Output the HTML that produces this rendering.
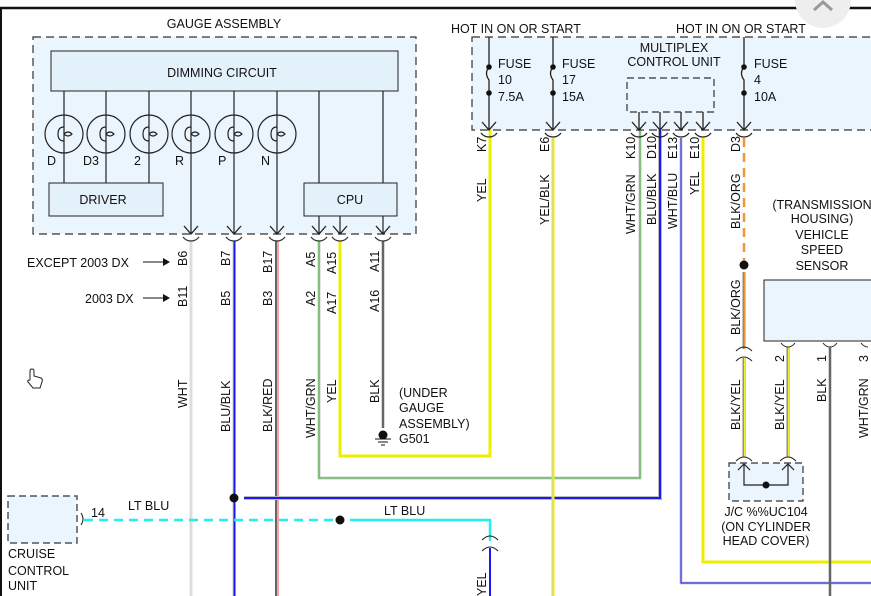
<!DOCTYPE html>
<html><head><meta charset="utf-8"><style>
html,body{margin:0;padding:0;background:#fff;width:871px;height:596px;overflow:hidden}
svg{display:block}
text{font-family:"Liberation Sans",Arial,sans-serif;font-size:12.5px;fill:#111}
</style></head><body>
<svg width="871" height="596" viewBox="0 0 871 596" xmlns="http://www.w3.org/2000/svg">
<defs>
<marker id="ar" markerWidth="10" markerHeight="10" refX="5" refY="8" orient="auto" markerUnits="userSpaceOnUse"/>
</defs>
<!-- frame -->
<line x1="0" y1="8" x2="871" y2="8" stroke="#111" stroke-width="2.5"/>
<line x1="1" y1="8" x2="1" y2="596" stroke="#111" stroke-width="2"/>
<circle cx="823" cy="0" r="28" fill="#eee"/>
<path d="M814 10 L823 2 L832 10" stroke="#999" stroke-width="3" fill="none"/>

<!-- GAUGE ASSEMBLY -->
<text x="224" y="28" text-anchor="middle">GAUGE ASSEMBLY</text>
<rect x="33" y="37" width="383" height="197" fill="#eaf5fd" stroke="#333" stroke-width="1.2" stroke-dasharray="8,5"/>
<rect x="51" y="51" width="347" height="40" fill="#e3f1fa" stroke="#222"/>
<text x="222" y="77" text-anchor="middle">DIMMING CIRCUIT</text>
<g stroke="#222" stroke-width="1.2" fill="none">
<line x1="64" y1="91" x2="64" y2="183"/><line x1="106" y1="91" x2="106" y2="183"/><line x1="149" y1="91" x2="149" y2="183"/>
<line x1="191" y1="91" x2="191" y2="234"/><line x1="234" y1="91" x2="234" y2="234"/><line x1="277" y1="91" x2="277" y2="234"/>
<line x1="319" y1="91" x2="319" y2="183"/><line x1="383" y1="91" x2="383" y2="183"/>
<line x1="319" y1="216" x2="319" y2="234"/><line x1="340" y1="216" x2="340" y2="234"/><line x1="383" y1="216" x2="383" y2="234"/>
<g id="bulbs">
<circle cx="64" cy="134" r="19"/><circle cx="106" cy="134" r="19"/><circle cx="149" cy="134" r="19"/>
<circle cx="191" cy="134" r="19"/><circle cx="234" cy="134" r="19"/><circle cx="277" cy="134" r="19"/>
</g>
</g>
<g fill="#eaf5fd" stroke="#222" stroke-width="1.2">
<path d="M64 127 q-6 0 -6 7 q0 7 6 7 M64 134 q4 -4 8 0 q-4 4 -8 0" fill="none"/>
<path d="M106 127 q-6 0 -6 7 q0 7 6 7 M106 134 q4 -4 8 0 q-4 4 -8 0" fill="none"/>
<path d="M149 127 q-6 0 -6 7 q0 7 6 7 M149 134 q4 -4 8 0 q-4 4 -8 0" fill="none"/>
<path d="M191 127 q-6 0 -6 7 q0 7 6 7 M191 134 q4 -4 8 0 q-4 4 -8 0" fill="none"/>
<path d="M234 127 q-6 0 -6 7 q0 7 6 7 M234 134 q4 -4 8 0 q-4 4 -8 0" fill="none"/>
<path d="M277 127 q-6 0 -6 7 q0 7 6 7 M277 134 q4 -4 8 0 q-4 4 -8 0" fill="none"/>
</g>
<text x="47" y="165">D</text><text x="83" y="165">D3</text><text x="134" y="165">2</text>
<text x="175" y="165">R</text><text x="218" y="165">P</text><text x="261" y="165">N</text>
<rect x="49" y="183" width="114" height="33" fill="#e3f1fa" stroke="#222"/>
<text x="103" y="204" text-anchor="middle">DRIVER</text>
<rect x="304" y="183" width="93" height="33" fill="#e3f1fa" stroke="#222"/>
<text x="350" y="204" text-anchor="middle">CPU</text>
<g stroke="#222" stroke-width="1.3" fill="none">
<path d="M184 226 L191 234 L198 226"/><path d="M227 226 L234 234 L241 226"/><path d="M270 226 L277 234 L284 226"/>
<path d="M312 226 L319 234 L326 226"/><path d="M333 226 L340 234 L347 226"/><path d="M376 226 L383 234 L390 226"/>
</g>

<!-- left wires -->
<line x1="191" y1="241" x2="191" y2="596" stroke="#ddd" stroke-width="3"/>
<line x1="234" y1="241" x2="234" y2="596" stroke="#ccc" stroke-width="3"/><line x1="234.5" y1="241" x2="234.5" y2="596" stroke="#1a1aee" stroke-width="2"/>
<line x1="276" y1="241" x2="276" y2="596" stroke="#666" stroke-width="2"/><line x1="278" y1="241" x2="278" y2="596" stroke="#e44" stroke-width="1"/>
<path d="M319 241 V478 H640 V130" stroke="#ccc" stroke-width="3" fill="none"/><path d="M319 241 V478 H640 V130" stroke="#5b5" stroke-width="1.3" fill="none"/>
<path d="M340 241 V456 H490 V130" stroke="#ee0" stroke-width="3" fill="none"/>
<line x1="383" y1="241" x2="383" y2="428" stroke="#666" stroke-width="2.5"/>
<circle cx="383" cy="435" r="4.5" fill="#111"/>
<path d="M375 439 H391 M378 442 H388 M381 445 H385" stroke="#111" stroke-width="1"/>
<text x="399" y="397">(UNDER</text><text x="399" y="412">GAUGE</text><text x="399" y="428">ASSEMBLY)</text><text x="399" y="443">G501</text>
<!-- blue junction -->
<path d="M244 498 H660 V130" stroke="#bbb" stroke-width="4" fill="none"/>
<path d="M244 498 H660 V130" stroke="#1a1aee" stroke-width="2" fill="none"/>
<circle cx="234" cy="498" r="4.5" fill="#111"/>
<!-- cruise -->
<rect x="8" y="496" width="69" height="47" fill="#eaf5fd" stroke="#555" stroke-width="1.5" stroke-dasharray="7,4"/>
<path d="M81 513 q4 6 0 12" stroke="#222" fill="none"/>
<text x="91" y="517">14</text>
<text x="128" y="510">LT BLU</text>
<text x="384" y="515">LT BLU</text>
<line x1="84" y1="520" x2="335" y2="520" stroke="#2ee" stroke-width="2.5" stroke-dasharray="9,6"/>
<circle cx="340" cy="520" r="4.5" fill="#111"/>
<path d="M350 520 H490 V541" stroke="#2ee" stroke-width="2.5" fill="none"/>
<path d="M482 540 q8 -8 16 0 M482 551 q8 -8 16 0" stroke="#222" fill="none"/>
<line x1="490" y1="548" x2="490" y2="596" stroke="#1a1aee" stroke-width="2"/>
<text transform="translate(486,596) rotate(-90)">YEL</text>
<text x="8" y="558">CRUISE</text><text x="8" y="575">CONTROL</text><text x="8" y="590">UNIT</text>

<!-- connector cups left -->
<g stroke="#333" stroke-width="1.2" fill="none">
<path d="M183 237 Q186 241 191 241 Q196 241 199 237"/><path d="M226 237 Q229 241 234 241 Q239 241 242 237"/>
<path d="M269 237 Q272 241 277 241 Q282 241 285 237"/><path d="M311 237 Q314 241 319 241 Q324 241 327 237"/>
<path d="M332 237 Q335 241 340 241 Q345 241 348 237"/><path d="M375 237 Q378 241 383 241 Q388 241 391 237"/>
</g>
<!-- left labels -->
<text x="27" y="267">EXCEPT 2003 DX</text>
<path d="M143 262 H168" stroke="#111"/><path d="M163 258 L170 262 L163 266Z" fill="#111"/>
<text x="85" y="303">2003 DX</text>
<path d="M143 298 H168" stroke="#111"/><path d="M163 294 L170 298 L163 302Z" fill="#111"/>
<g>
<text transform="translate(187,266) rotate(-90)">B6</text>
<text transform="translate(187,307) rotate(-90)">B11</text>
<text transform="translate(187,408) rotate(-90)">WHT</text>
<text transform="translate(230,266) rotate(-90)">B7</text>
<text transform="translate(230,306) rotate(-90)">B5</text>
<text transform="translate(230,432) rotate(-90)">BLU/BLK</text>
<text transform="translate(272,273) rotate(-90)">B17</text>
<text transform="translate(272,306) rotate(-90)">B3</text>
<text transform="translate(272,432) rotate(-90)">BLK/RED</text>
<text transform="translate(315,267) rotate(-90)">A5</text>
<text transform="translate(315,306) rotate(-90)">A2</text>
<text transform="translate(315,438) rotate(-90)">WHT/GRN</text>
<text transform="translate(336,274) rotate(-90)">A15</text>
<text transform="translate(336,314) rotate(-90)">A17</text>
<text transform="translate(336,403) rotate(-90)">YEL</text>
<text transform="translate(379,272) rotate(-90)">A11</text>
<text transform="translate(379,312) rotate(-90)">A16</text>
<text transform="translate(379,403) rotate(-90)">BLK</text>
</g>
<!-- cursor -->
<path d="M30 380 V371 q0 -2 2 -2 q2 0 2 2 V376 l7 2 q2 1 1 4 l-2 6 H33 l-5 -6 q-1 -2 2 -2Z" fill="#fff" stroke="#222" stroke-width="1"/>

<!-- RIGHT -->
<text x="451" y="33">HOT IN ON OR START</text>
<text x="676" y="33">HOT IN ON OR START</text>
<rect x="472" y="37" width="410" height="93" fill="#eaf5fd" stroke="#333" stroke-width="1.2" stroke-dasharray="8,5"/>
<g stroke="#222" stroke-width="1.3" fill="none">
<path d="M489 37 V67 q-5 6 0 13 V130"/><path d="M553 37 V67 q-5 6 0 13 V130"/><path d="M744 37 V67 q-5 6 0 13 V130"/>
<path d="M482 122 L489 130 L496 122"/><path d="M546 122 L553 130 L560 122"/><path d="M737 122 L744 130 L751 122"/>
<path d="M639 112 V130 M660 112 V130 M681 112 V130 M703 112 V130"/>
<path d="M632 122 L639 130 L646 122"/><path d="M653 122 L660 130 L667 122"/><path d="M674 122 L681 130 L688 122"/><path d="M696 122 L703 130 L710 122"/>
<path d="M481 133 Q484 137 489 137 Q494 137 497 133"/><path d="M545 133 Q548 137 553 137 Q558 137 561 133"/>
<path d="M631 133 Q634 137 639 137 Q644 137 647 133"/><path d="M652 133 Q655 137 660 137 Q665 137 668 133"/>
<path d="M673 133 Q676 137 681 137 Q686 137 689 133"/><path d="M695 133 Q698 137 703 137 Q708 137 711 133"/>
<path d="M736 133 Q739 137 744 137 Q749 137 752 133"/>
</g>
<g fill="#111"><circle cx="489" cy="67" r="2.8"/><circle cx="489" cy="93" r="2.8"/><circle cx="553" cy="67" r="2.8"/><circle cx="553" cy="93" r="2.8"/><circle cx="744" cy="67" r="2.8"/><circle cx="744" cy="93" r="2.8"/></g>
<text x="498" y="68">FUSE</text><text x="498" y="84">10</text><text x="498" y="101">7.5A</text>
<text x="562" y="68">FUSE</text><text x="562" y="84">17</text><text x="562" y="101">15A</text>
<text x="754" y="68">FUSE</text><text x="754" y="84">4</text><text x="754" y="101">10A</text>
<text x="674" y="52" text-anchor="middle">MULTIPLEX</text><text x="674" y="66" text-anchor="middle">CONTROL UNIT</text>
<rect x="627" y="78" width="87" height="34" fill="none" stroke="#333" stroke-width="1.2" stroke-dasharray="7,4"/>

<!-- right wires -->
<line x1="490" y1="138" x2="490" y2="456" stroke="#ee0" stroke-width="3"/>
<line x1="553" y1="138" x2="553" y2="596" stroke="#ccc" stroke-width="3"/><line x1="553.5" y1="138" x2="553.5" y2="596" stroke="#ee0" stroke-width="2"/>
<path d="M681 138 V583 H871" stroke="#ccc" stroke-width="3" fill="none"/><path d="M681 138 V583 H871" stroke="#33e" stroke-width="1.2" fill="none"/>
<path d="M703 138 V562 H871" stroke="#ee0" stroke-width="3" fill="none"/>
<line x1="744" y1="138" x2="744" y2="262" stroke="#e93" stroke-width="2.5" stroke-dasharray="9,6"/>
<circle cx="744" cy="265" r="4.5" fill="#111"/>
<line x1="744" y1="272" x2="744" y2="349" stroke="#888" stroke-width="3"/><line x1="744.5" y1="272" x2="744.5" y2="349" stroke="#e93" stroke-width="1.2"/>
<path d="M736 351 q8 -8 16 0 M736 361 q8 -8 16 0" stroke="#222" fill="none"/>
<line x1="744" y1="358" x2="744" y2="457" stroke="#888" stroke-width="3"/><line x1="744.5" y1="358" x2="744.5" y2="457" stroke="#ee3" stroke-width="1.2"/>
<line x1="788" y1="347" x2="788" y2="457" stroke="#888" stroke-width="3"/><line x1="788.5" y1="347" x2="788.5" y2="457" stroke="#ee3" stroke-width="1.2"/>
<path d="M781 343 Q784 347 788 347 Q792 347 795 343" stroke="#222" fill="none"/>
<path d="M823 343 Q826 347 830 347 Q834 347 837 343" stroke="#222" fill="none"/>
<path d="M861 343 Q864 347 868 347" stroke="#222" fill="none"/>
<line x1="830" y1="347" x2="830" y2="596" stroke="#666" stroke-width="2.5"/>
<rect x="764" y="280" width="110" height="61" fill="#eaf5fd" stroke="#222"/>
<text x="822" y="209" text-anchor="middle">(TRANSMISSION</text>
<text x="822" y="223" text-anchor="middle">HOUSING)</text>
<text x="822" y="239" text-anchor="middle">VEHICLE</text>
<text x="822" y="254" text-anchor="middle">SPEED</text>
<text x="822" y="270" text-anchor="middle">SENSOR</text>
<!-- J/C -->
<rect x="729" y="463" width="74" height="38" fill="#eaf5fd" stroke="#333" stroke-width="1.2" stroke-dasharray="7,4"/>
<path d="M736 461 q8 -8 16 0 M780 461 q8 -8 16 0" stroke="#222" fill="none"/>
<path d="M744 464 V485 H788 V464 M738 470 L744 464 L750 470 M782 470 L788 464 L794 470" stroke="#222" fill="none" stroke-width="1.2"/>
<circle cx="766" cy="485" r="3.5" fill="#111"/>
<text x="766" y="516" text-anchor="middle">J/C %%UC104</text>
<text x="766" y="531" text-anchor="middle">(ON CYLINDER</text>
<text x="766" y="545" text-anchor="middle">HEAD COVER)</text>
<!-- right labels -->
<g>
<text transform="translate(486,152) rotate(-90)">K7</text>
<text transform="translate(486,202) rotate(-90)">YEL</text>
<text transform="translate(549,152) rotate(-90)">E6</text>
<text transform="translate(549,225) rotate(-90)">YEL/BLK</text>
<text transform="translate(635,159) rotate(-90)">K10</text>
<text transform="translate(635,234) rotate(-90)">WHT/GRN</text>
<text transform="translate(656,159) rotate(-90)">D10</text>
<text transform="translate(656,225) rotate(-90)">BLU/BLK</text>
<text transform="translate(677,159) rotate(-90)">E13</text>
<text transform="translate(677,229) rotate(-90)">WHT/BLU</text>
<text transform="translate(699,159) rotate(-90)">E10</text>
<text transform="translate(699,195) rotate(-90)">YEL</text>
<text transform="translate(740,152) rotate(-90)">D3</text>
<text transform="translate(740,229) rotate(-90)">BLK/ORG</text>
<text transform="translate(740,335) rotate(-90)">BLK/ORG</text>
<text transform="translate(740,430) rotate(-90)">BLK/YEL</text>
<text transform="translate(784,362) rotate(-90)">2</text>
<text transform="translate(784,430) rotate(-90)">BLK/YEL</text>
<text transform="translate(826,362) rotate(-90)">1</text>
<text transform="translate(826,402) rotate(-90)">BLK</text>
<text transform="translate(868,362) rotate(-90)">3</text>
<text transform="translate(868,438) rotate(-90)">WHT/GRN</text>
</g>
</svg>
</body></html>
